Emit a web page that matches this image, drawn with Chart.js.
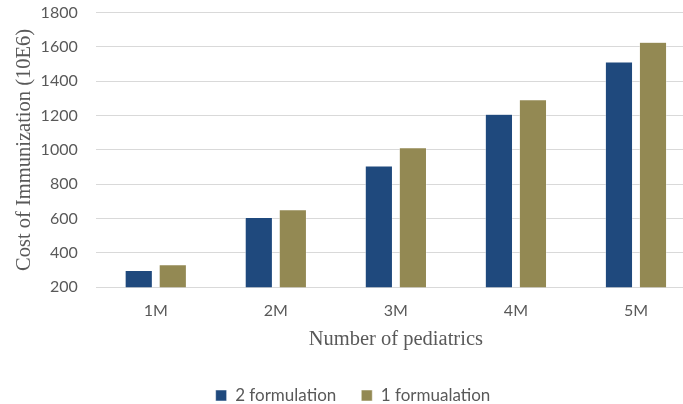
<!DOCTYPE html>
<html>
<head>
<meta charset="utf-8">
<script src="https://cdn.jsdelivr.net/npm/chart.js@4"></script>
<style>
  html, body { margin: 0; padding: 0; background: #fff; overflow: hidden; }
  #wrap { width: 696px; height: 414px; position: relative; }
</style>
</head>
<body>
<div id="wrap"><canvas id="chart"></canvas></div>
<script>
const categories = ['1M', '2M', '3M', '4M', '5M'];
const twoFormulation = [298, 606, 906, 1208, 1512];
const oneFormulation = [331, 652, 1013, 1292, 1627];
const seriesNames = ['2 formulation', '1 formualation'];

const sansFont = 'Lato, "Liberation Sans", sans-serif';
const serifFont = '"Liberation Serif", "DejaVu Serif", serif';

new Chart(document.getElementById('chart'), {
    type: 'bar',
    data: {
        labels: categories,
        datasets: [{
            label: seriesNames[0],
            data: twoFormulation,
            backgroundColor: '#1f497d',
            borderColor: '#ffffff',
            borderWidth: 0.5
        }, {
            label: seriesNames[1],
            data: oneFormulation,
            backgroundColor: '#938953',
            borderColor: '#ffffff',
            borderWidth: 0.5
        }]
    },
    options: {
        responsive: true,
        maintainAspectRatio: false,
        animation: false,
        datasets: { bar: { categoryPercentage: 0.567, barPercentage: 0.8 } },
        layout: { padding: { left: 10, right: 0, top: 0, bottom: 0 } },
        plugins: {
            legend: {
                position: 'bottom',
                labels: {
                    boxWidth: 11, boxHeight: 11, padding: 25,
                    color: '#595959',
                    font: { family: sansFont, size: 17 }
                }
            },
            tooltip: { enabled: false }
        },
        scales: {
            x: {
                // ticks hidden, tickLength only pushes the labels down
                grid: { display: false, drawTicks: true, tickLength: 14 },
                border: { display: false },
                ticks: { color: '#595959', font: { family: sansFont, size: 16 }, padding: 0 },
                title: {
                    display: true, text: 'Number of pediatrics',
                    color: '#595959', font: { family: serifFont, size: 20.5 },
                    padding: { top: 7, bottom: 10 }
                }
            },
            y: {
                min: 200, max: 1800,
                grid: { color: '#d9d9d9', lineWidth: 1, drawTicks: true, tickLength: 15, tickColor: 'rgba(0,0,0,0)' },
                border: { display: false },
                ticks: {
                    stepSize: 200, color: '#595959', padding: 3,
                    font: { family: sansFont, size: 16 },
                    callback: v => String(v)
                },
                title: {
                    display: true, text: 'Cost of Immunization (10E6)',
                    color: '#595959', font: { family: serifFont, size: 20.5 },
                    padding: { top: 2, bottom: 1 }
                }
            }
        }
    }
});
</script>
</body>
</html>
